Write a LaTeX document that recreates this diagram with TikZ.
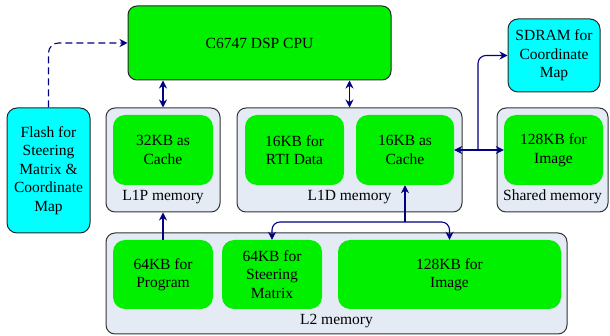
\documentclass[tikz,border=0pt]{standalone}
\usepackage{fontspec}
\setmainfont{Liberation Serif}
\usepackage{tikz}
\usetikzlibrary{arrows.meta,positioning,calc}
\definecolor{boxgreen}{RGB}{0,240,0}
\definecolor{boxcyan}{RGB}{0,255,255}
\definecolor{memgray}{RGB}{228,235,245}
\definecolor{busblue}{RGB}{0,0,128}
\tikzstyle{cpu}  = [rectangle, draw=black!85, line width=1pt, fill=boxgreen,
                    rounded corners=9pt, align=center, inner sep=0pt]
\tikzstyle{unit} = [rectangle, fill=boxgreen, rounded corners=12pt,
                    align=center, inner sep=0pt]
\tikzstyle{ext}  = [rectangle, draw=black!85, line width=1pt, fill=boxcyan,
                    rounded corners=10pt, align=center, inner sep=0pt]
\tikzstyle{mem}  = [rectangle, draw=black!80, line width=1pt, fill=memgray,
                    rounded corners=9pt, inner sep=0pt]
\tikzstyle{ptr}  = [draw, busblue, line width=1.1pt, -{Stealth[length=8pt,width=8pt]}]
\tikzstyle{bus}  = [draw, busblue, line width=1.1pt,
                    {Stealth[length=8pt,width=8pt]}-{Stealth[length=8pt,width=8pt]}]

\begin{document}
\begin{tikzpicture}[x=1pt, y=-1pt,
			every node/.style={font=\fontsize{15.5}{18.5}\selectfont}]
		\useasboundingbox (0,0) rectangle (610,336);
		% processor and external memories
		\node[cpu, minimum width=263pt, minimum height=74pt] (cpu) at (259.5,43) {C6747 DSP CPU};
		\node[ext, minimum width=83pt, minimum height=125pt] (flash) at (48.5,170.5)
			{Flash for\\Steering\\Matrix \&\\Coordinate\\Map};
		\node[ext, minimum width=92pt, minimum height=73pt] (sdram) at (554,55.5)
			{SDRAM for\\Coordinate\\Map};

		% on-chip memories
		\node[mem, minimum width=114pt, minimum height=104pt] (l1p) at (163,160) {};
		\node[unit, minimum width=100pt, minimum height=70pt] (c32) at (163,150) {32KB as\\Cache};
		\node (l1plabel) at (163,197) {L1P memory};

		\node[mem, minimum width=225pt, minimum height=104pt] (l1d) at (349.5,160) {};
		\node[unit, minimum width=99pt, minimum height=70pt] (rti) at (294.5,150) {16KB for\\RTI Data};
		\node[unit, minimum width=98pt, minimum height=70pt] (c16) at (405,150) {16KB as\\Cache};
		\node (l1dlabel) at (349.5,197) {L1D memory};

		\node[mem, minimum width=111pt, minimum height=104pt] (shared) at (552.5,160) {};
		\node[unit, minimum width=99pt, minimum height=70pt] (img1) at (553.5,150) {128KB for\\Image};
		\node (sharedlabel) at (552.5,197) {Shared memory};

		\node[mem, minimum width=461pt, minimum height=101pt] (l2) at (336.5,283.5) {};
		\node[unit, minimum width=100pt, minimum height=69pt] (prog) at (163,274.5) {64KB for\\Program};
		\node[unit, minimum width=100pt, minimum height=69pt] (steer) at (272,274.5) {64KB for\\Steering\\Matrix};
		\node[unit, minimum width=223pt, minimum height=69pt] (img2) at (449.5,274.5) {128KB for\\Image};
		\node (l2label) at (336.5,321) {L2 memory};

		\coordinate (split) at (478,150);
		\coordinate (l2bus) at (405,222);

		\draw[ptr, dashed, dash pattern=on 7pt off 4pt, rounded corners=10pt] (flash.north) |- (cpu.west);
		\draw[bus] (cpu.south -| l1p.north) -- (l1p.north);
		\draw[bus] (cpu.south -| l1d.north) -- (l1d.north);
		\draw[bus] (c16.east) -- (img1.west);
		\draw[ptr, rounded corners=8pt] (split) |- (sdram.west);
		\draw[ptr] (prog.north) -- (l1p.south);
		\draw[ptr] (l2bus) -- (c16.south);
		\draw[ptr, rounded corners=8pt] (l2bus) -| (steer.north);
		\draw[ptr, rounded corners=8pt] (l2bus) -| (img2.north);
	\end{tikzpicture}
\end{document}
